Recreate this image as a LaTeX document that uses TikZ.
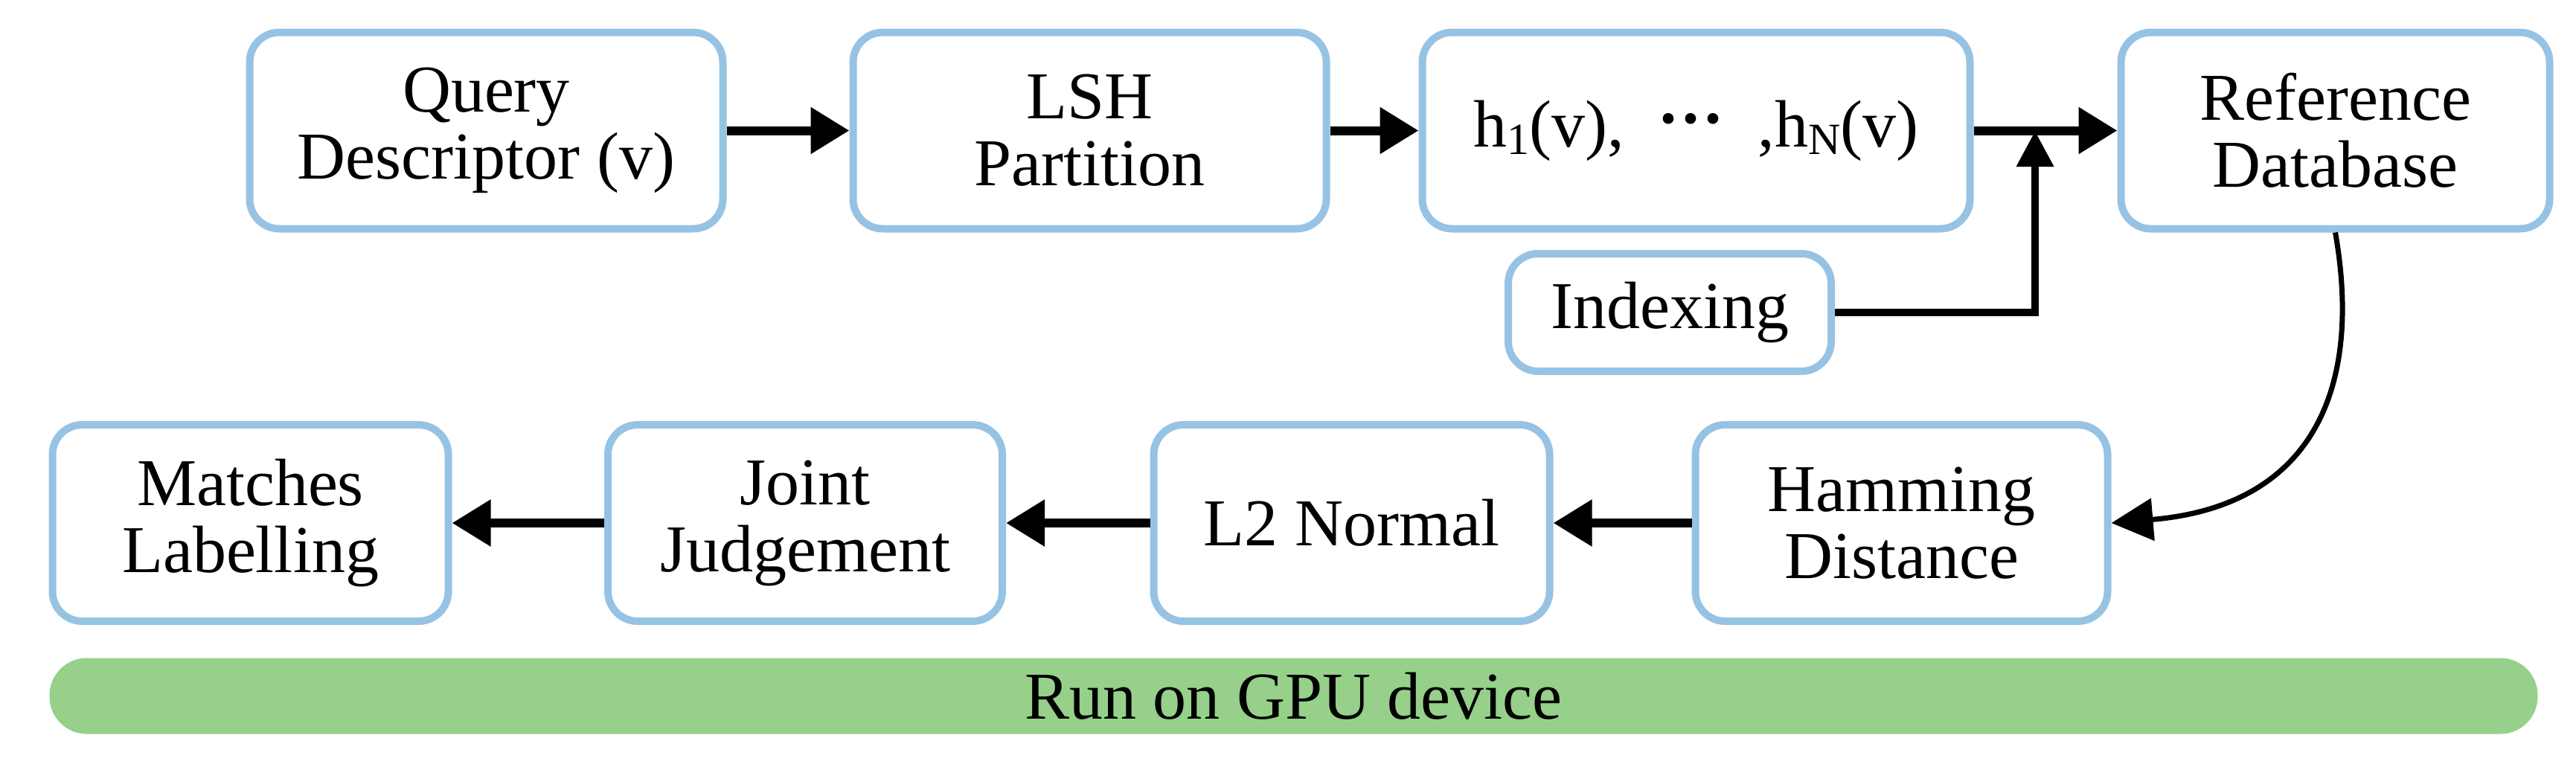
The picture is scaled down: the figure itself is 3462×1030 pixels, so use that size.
\documentclass[tikz,border=0pt]{standalone}
\usepackage{fontspec}
\setmainfont{Liberation Serif}
\usetikzlibrary{arrows.meta}
\definecolor{bord}{RGB}{150,195,228}
\definecolor{gpu}{RGB}{150,208,138}
\newcommand{\mysub}[1]{\raisebox{-0.25ex}{\fontsize{30}{30}\selectfont #1}}
\begin{document}
\begin{tikzpicture}[x=0.5pt,y=-0.5pt,
  box/.style={draw=bord,line width=5pt,rounded corners=20pt,fill=white,align=center,
    font=\fontsize{45}{45}\selectfont,inner sep=0pt},
  arr/.style={line width=6pt,-{Triangle[length=26pt,width=30pt]}}]
\useasboundingbox (0,0) rectangle (3462,1030);
\node[box,minimum width=318pt,minimum height=132pt] (q) at (653.5,175.5) {Query\\Descriptor (v)};
\node[box,minimum width=318pt,minimum height=132pt] (l) at (1464.5,175.5) {LSH\\Partition};
\node[box,minimum width=368pt,minimum height=132pt] (h) at (2279.5,175.5) {\raisebox{6pt}{h\mysub{1}(v),\ \ \raisebox{4pt}{\textbf{\fontsize{45}{45}\selectfont ···}}\ \ ,h\mysub{N}(v)}};
\node[box,minimum width=288pt,minimum height=132pt] (r) at (3138.5,175.5) {Reference\\Database};
\node[box,minimum width=217pt,minimum height=79pt] (i) at (2244,420) {Indexing};
\node[box,minimum width=266pt,minimum height=132pt] (m) at (336.5,703) {Matches\\Labelling};
\node[box,minimum width=265pt,minimum height=132pt] (j) at (1082,703) {Joint\\Judgement};
\node[box,minimum width=266pt,minimum height=132pt] (n) at (1816.5,703) {L2 Normal};
\node[box,minimum width=277pt,minimum height=132pt] (hd) at (2555.5,703) {Hamming\\Distance};
\node[fill=gpu,rounded corners=25pt,minimum width=1672pt,minimum height=51pt,inner sep=0pt,
  font=\fontsize{45}{45}\selectfont] (g) at (1738.5,935.5) {Run on GPU device};
\coordinate (e) at (2735,176);
\draw[arr] (q) -- (l);
\draw[arr] (l) -- (h);
\draw[arr] (h) -- (r);
\draw[line width=5pt,-{Triangle[length=24pt,width=24pt]}] (i.east) -| (e);
\draw[line width=3.5pt,-{Triangle[length=28pt,width=28pt]}] (r.south) .. controls (3175,520) and (3110,680) .. (hd.east);
\draw[arr] (hd) -- (n);
\draw[arr] (n) -- (j);
\draw[arr] (j) -- (m);
\end{tikzpicture}
\end{document}
